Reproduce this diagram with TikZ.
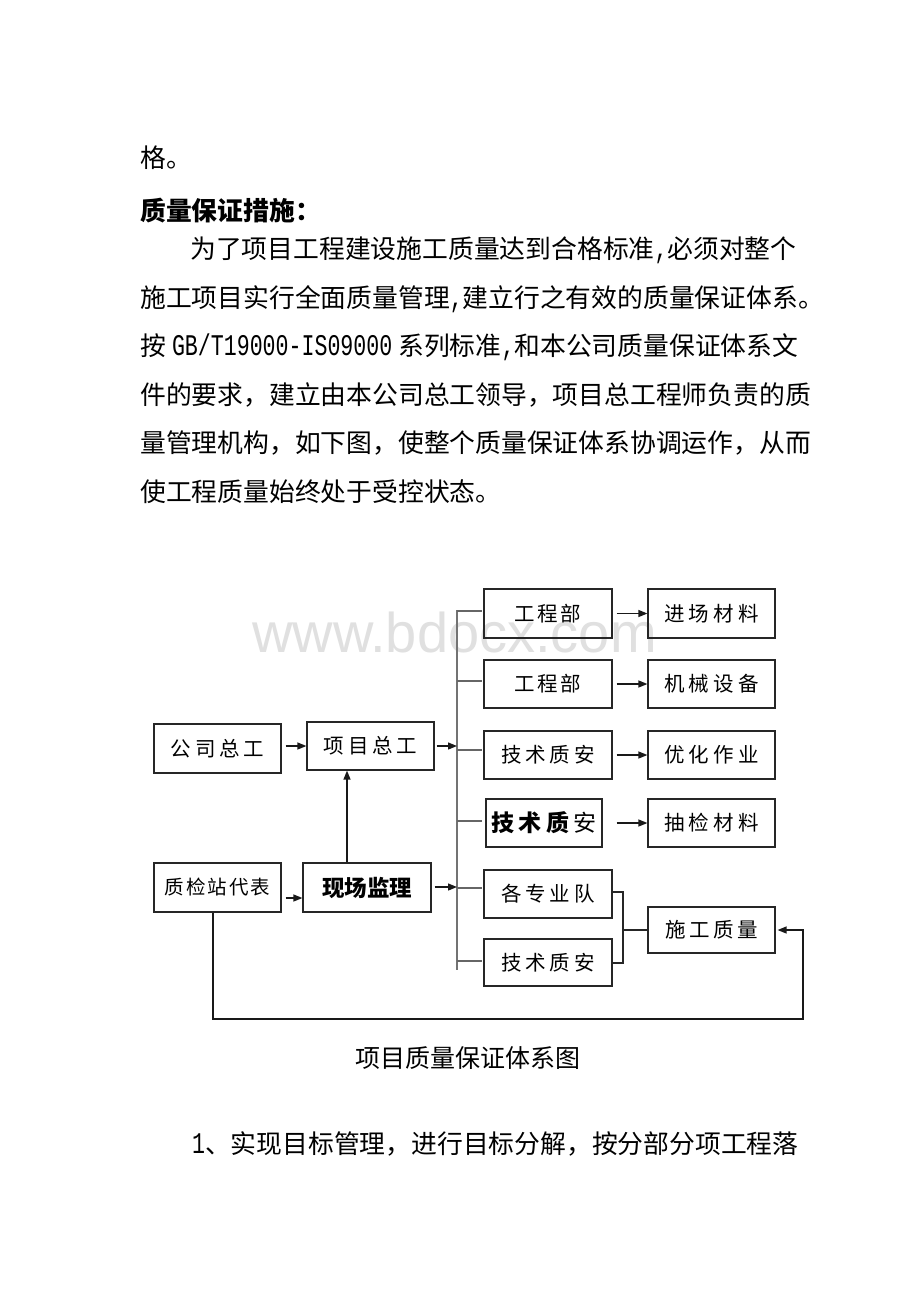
\documentclass[tikz,border=0pt]{standalone}
\usepackage{fontspec}
\setmainfont{Noto Sans CJK SC}
\newfontfamily\asciifont[FakeStretch=0.72]{Liberation Mono}
\newfontfamily\wmfont{Liberation Sans}
\usetikzlibrary{arrows.meta}
\newcommand\asc[1]{{\asciifont\fontsize{30pt}{30pt}\selectfont #1}}
\newcommand\bt[3]{{\fontsize{#1}{#1}\selectfont\addfontfeatures{LetterSpace=#2}#3}}
\begin{document}
\begin{tikzpicture}[x=1pt,y=-1pt,
 bx/.style={draw=black!85,line width=1.2pt,inner sep=0pt,minimum width=127pt,minimum height=48pt},
 arr/.style={line width=1.3pt,draw=black!90,-{Triangle[length=9pt,width=7pt]}},
 ln/.style={line width=1.2pt,draw=black!85},
 tickln/.style={line width=1.2pt,draw=black!60},
 bus/.style={line width=2pt,draw=black!55},
 para/.style={anchor=base west,inner sep=0pt,font=\fontsize{25.8pt}{30pt}\selectfont}]
\path[use as bounding box] (0,0) rectangle (920,1302);
\fill[white] (0,0) rectangle (920,1302);

% watermark
\node[anchor=base west,inner sep=0pt,text=black!12,font=\wmfont\fontsize{56pt}{60pt}\selectfont] (wm) at (252,652) {www.bdocx.com};

% paragraph text
\node[para] (t0) at (140,167) {格。};
\node[para,font=\fontsize{25.8pt}{30pt}\selectfont\bfseries] (t1) at (140,220) {质量保证措施：};
\node[para] (t2) at (190,258) {为了项目工程建设施工质量达到合格标准\asc{,}必须对整个};
\node[para] (t3) at (140,307) {施工项目实行全面质量管理\asc{,}建立行之有效的质量保证体系。};
\node[para] (t4) at (140,355) {按\hspace{6pt}\asc{GB/T19000-IS09000}\hspace{6pt}系列标准\asc{,}和本公司质量保证体系文};
\node[para] (t5) at (140,404) {件的要求，建立由本公司总工领导，项目总工程师负责的质};
\node[para] (t6) at (140,452) {量管理机构，如下图，使整个质量保证体系协调运作，从而};
\node[para] (t7) at (140,501) {使工程质量始终处于受控状态。};

% bus
\coordinate (bt) at (457,610);
\coordinate (bb) at (457,970);
\draw[bus] (bt) -- (bb);

% boxes
\node[bx,minimum height=49pt] (gszg) at (217.5,748.5) {\bt{20.5pt}{19}{公司总工}};
\node[bx] (xmzg) at (370.5,746) {\bt{20.5pt}{19}{项目总工}};
\node[bx,minimum height=49pt] (zjz) at (217.5,887.5) {\bt{19.5pt}{10}{质检站代表}};
\node[bx,minimum width=128pt,minimum height=49pt] (xcjl) at (367,887.5) {\fontsize{22.5pt}{24pt}\selectfont\bfseries 现场监理};

\node[bx,minimum width=128pt,minimum height=49pt] (gcb1) at (548,613.5) {\bt{20.5pt}{12}{工程部}};
\node[bx,minimum height=49pt] (jccl) at (711.5,613.5) {\bt{20.5pt}{20}{进场材料}};
\node[bx,minimum width=128pt] (gcb2) at (548,684) {\bt{20.5pt}{12}{工程部}};
\node[bx] (jxsb) at (711.5,684) {\bt{20.5pt}{20}{机械设备}};
\node[bx,minimum width=128pt] (jsza1) at (548,755) {\bt{20.5pt}{19}{技术质安}};
\node[bx] (yhzy) at (711.5,755) {\bt{20.5pt}{20}{优化作业}};
\node[bx,minimum width=116pt] (jsza2) at (544,823) {\fontsize{23pt}{24pt}\selectfont\addfontfeatures{LetterSpace=20}\textbf{技术质}安};
\node[bx] (jcl) at (711.5,823) {\bt{20.5pt}{20}{抽检材料}};
\node[bx,minimum width=128pt] (gzyd) at (548,894) {\bt{20.5pt}{19}{各专业队}};
\node[bx,minimum width=128pt,minimum height=47pt] (jsza3) at (548,962.5) {\bt{20.5pt}{19}{技术质安}};
\node[bx,minimum height=46pt] (sgzl) at (711.5,930) {\bt{20.5pt}{17}{施工质量}};

% left arrows
\draw[arr,shorten <=4pt] (gszg.east |- xmzg.west) -- (xmzg.west);
\draw[arr,shorten <=2pt] (xmzg.east) -- (xmzg.east -| bt);
\draw[arr] ([xshift=-20pt]xcjl.north) -- ([xshift=-20pt]xcjl.north |- xmzg.south);
\coordinate (r1) at (0,898);
\draw[arr,shorten <=4pt] (zjz.east |- r1) -- (xcjl.west |- r1);
\coordinate (r2) at (0,887);
\draw[arr,shorten <=3pt] (xcjl.east |- r2) -- (bt |- r2);

% ticks from bus
\foreach \yy in {611,681,750,821,888,961}
  \draw[tickln] (bt |- 0,\yy) -- ++(25,0);

% right arrows
\draw[arr,shorten <=4pt] (gcb1.east) -- (jccl.west);
\draw[arr,shorten <=4pt] (gcb2.east) -- (jxsb.west);
\draw[arr,shorten <=4pt] (jsza1.east) -- (yhzy.west);
\draw[arr,shorten <=14pt] (jsza2.east) -- (jcl.west);

% bracket to 施工质量
\coordinate (bk) at (623,930);
\draw[ln] (gzyd.east |- 0,892) -- (bk |- 0,892) -- (bk |- 0,963) -- (jsza3.east |- 0,963);
\draw[ln] (bk) -- (sgzl.west);

% feedback loop
\coordinate (fb1) at (213,1019);
\coordinate (fb2) at (803,1019);
\draw[arr] (zjz.south -| fb1) -- (fb1) -- (fb2) -- (fb2 |- sgzl.east) -- ([xshift=2pt]sgzl.east);

% caption and following text
\node[inner sep=0pt,font=\fontsize{25pt}{30pt}\selectfont] (cap) at (467.5,1058) {项目质量保证体系图};
\node[para] (t8) at (192,1153) {\asc{1}、实现目标管理，进行目标分解，按分部分项工程落};
\end{tikzpicture}
\end{document}
